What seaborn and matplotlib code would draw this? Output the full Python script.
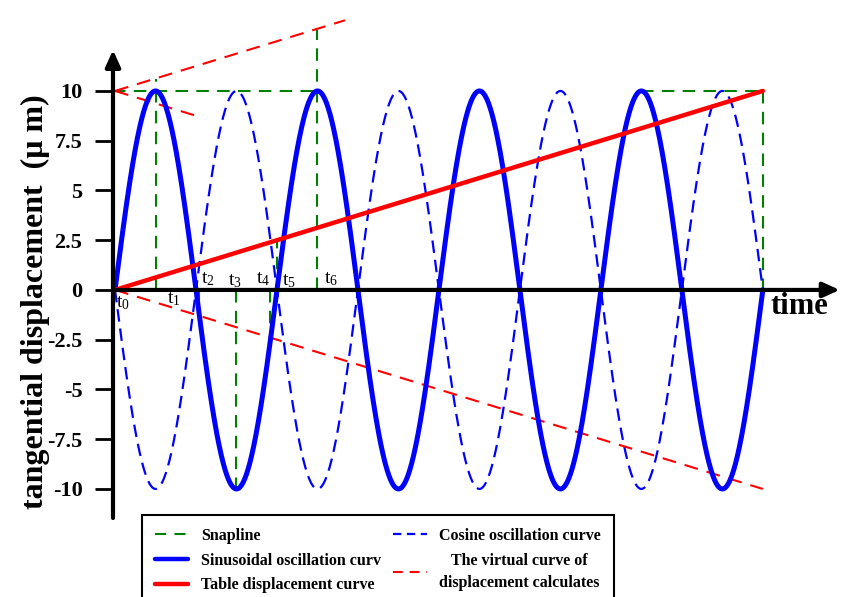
import numpy as np
import pandas as pd
import matplotlib
matplotlib.use("Agg")
import matplotlib.pyplot as plt
import seaborn as sns
from matplotlib.lines import Line2D

# ---------------- data ----------------
amplitude = 10.0          # um, oscillation amplitude
n_periods = 4             # number of full oscillations shown
t_end = 8.0               # end of time span (arbitrary units, 2 per period)
table_end = 10.0          # table displacement at t_end

ytick_values = [10, 7.5, 5, 2.5, 0, -2.5, -5, -7.5, -10]
ytick_labels = ["10", "7.5", "5", "2.5", "0", "-2.5", "-5", "-7.5", "-10"]

# time marks t0..t6
mark_labels = [r"$\mathrm{t}_{0}$", r"$\mathrm{t}_{1}$", r"$\mathrm{t}_{2}$", r"$\mathrm{t}_{3}$",
               r"$\mathrm{t}_{4}$", r"$\mathrm{t}_{5}$", r"$\mathrm{t}_{6}$"]
mark_x = [0.10, 0.72, 1.15, 1.48, 1.83, 2.15, 2.67]
mark_y = [-0.65, -0.45, 0.55, 0.45, 0.55, 0.45, 0.55]

# snap lines (green dashed) segments
snap_x0 = [-0.03, 0.50, 2.50, 1.04, 1.50, 1.92, 2.00, 6.50, 8.00]
snap_y0 = [10.0, 0.0, 0.0, 0.0, 0.0, 0.0, 0.0, 10.0, 10.0]
snap_x1 = [2.50, 0.50, 2.50, 1.04, 1.50, 1.92, 2.00, 8.00, 8.00]
snap_y1 = [10.0, 10.62, 13.12, -1.30, -10.0, -2.40, 2.50, 10.0, 0.0]

# virtual displacement lines (red dashed) segments
virt_x0 = [0.0, 0.0, 0.0]
virt_y0 = [10.0, 10.0, 0.0]
virt_x1 = [2.84, 1.05, 8.0]
virt_y1 = [13.55, 8.69, -10.0]

legend_labels = ["Snapline", "Sinusoidal oscillation curv", "Table displacement curve",
                 "Cosine oscillation curve", "The virtual curve of\ndisplacement calculates"]

# ---------------- build curves ----------------
t = np.linspace(0, t_end, 2001)
phase = 2 * np.pi * n_periods * t / t_end
curves = pd.DataFrame({
    "t": t,
    "sin": amplitude * np.sin(phase),
    "cos": -amplitude * np.sin(phase),
    "table": table_end * t / t_end,
})

# ---------------- style ----------------
sns.set_style("white")
plt.rcParams["font.family"] = ["Liberation Serif", "DejaVu Serif"]
plt.rcParams["mathtext.fontset"] = "custom"
plt.rcParams["mathtext.rm"] = "Liberation Serif"
plt.rcParams["mathtext.it"] = "Liberation Serif:italic"
plt.rcParams["lines.scale_dashes"] = False
plt.rcParams["text.color"] = "black"
plt.rcParams["ytick.color"] = "black"
plt.rcParams["ytick.labelcolor"] = "black"

BLUE = "#0000FF"
RED = "#FF0000"
GREEN = "#008000"

W, H = 843, 597
fig = plt.figure(figsize=(W / 100, H / 100), dpi=100)
ax = fig.add_axes([113 / W, (H - 518) / H, 730 / W, 518 / H])
ax.set_xlim(-0.025, 8.99)
ax.set_ylim(-11.46, 14.57)

green_dash = (0, (9, 6))
red_dash = (0, (10, 6.5))
blue_dash = (0, (9, 5))

# snap lines
for x0, y0, x1, y1 in zip(snap_x0, snap_y0, snap_x1, snap_y1):
    ax.plot([x0, x1], [y0, y1], color=GREEN, lw=1.5, linestyle=green_dash, zorder=2)

# cosine curve (dashed)
sns.lineplot(data=curves, x="t", y="cos", ax=ax, color=BLUE, lw=1.6,
             linestyle=blue_dash, zorder=3, legend=False)
# sinusoidal curve
sns.lineplot(data=curves, x="t", y="sin", ax=ax, color=BLUE, lw=3.6, zorder=4, legend=False)
# table displacement
sns.lineplot(data=curves, x="t", y="table", ax=ax, color=RED, lw=3.2, zorder=5, legend=False)

# virtual lines
for x0, y0, x1, y1 in zip(virt_x0, virt_y0, virt_x1, virt_y1):
    ax.plot([x0, x1], [y0, y1], color=RED, lw=1.5, linestyle=red_dash, zorder=3)

# axes with arrows
for s in ax.spines.values():
    s.set_visible(False)
ax.set_xticks([])
ax.set_yticks(ytick_values)
ax.set_yticklabels(ytick_labels, fontsize=16, fontweight="bold", color="black")
ax.tick_params(axis="y", left=True, length=13, width=2, pad=9, direction="out",
               color="black", labelcolor="black")
ax.set_xlabel("")
ax.set_ylabel("")

x_axis_left = -0.025
ax.annotate("", xy=(x_axis_left, 12.06), xytext=(x_axis_left, -11.46),
            arrowprops=dict(arrowstyle="-|>,head_length=1.0,head_width=0.45", lw=3,
                            color="black", shrinkA=0, shrinkB=0), annotation_clip=False, zorder=6)
ax.annotate("", xy=(8.95, 0), xytext=(x_axis_left, 0),
            arrowprops=dict(arrowstyle="-|>,head_length=1.0,head_width=0.45", lw=3,
                            color="black", shrinkA=0, shrinkB=0), annotation_clip=False, zorder=6)

# time marks
for lab, x, y in zip(mark_labels, mark_x, mark_y):
    ax.text(x, y, lab, fontsize=14, ha="center", va="center", zorder=7)

fig.text(35 / W, 1 - 302 / H, "tangential displacement  (\u03bc m)", rotation=90,
         ha="center", va="center", fontsize=23, fontweight="bold")
fig.text(799 / W, 1 - 307 / H, "time", ha="center", va="center", fontsize=22, fontweight="bold")

# legend
handles = [
    Line2D([], [], color=GREEN, lw=1.5, linestyle=(0, (8, 6))),
    Line2D([], [], color=BLUE, lw=3.2),
    Line2D([], [], color=RED, lw=3.2),
    Line2D([], [], color=BLUE, lw=1.6, linestyle=(0, (6, 4))),
    Line2D([], [], color=RED, lw=1.5, linestyle=(0, (7, 5))),
]
leg = fig.legend(handles, legend_labels, loc="upper left",
                 bbox_to_anchor=(142 / W, 1 - 515 / H), ncol=2,
                 prop={"family": "Liberation Serif", "weight": "bold", "size": 11.5},
                 frameon=True, fancybox=False, edgecolor="black", framealpha=1,
                 borderaxespad=0, handlelength=2.1, handletextpad=0.8,
                 columnspacing=0.75, labelspacing=0.55, borderpad=0.8)
leg.get_frame().set_linewidth(1.5)
for txt in leg.get_texts():
    txt.set_color("black")
leg.get_texts()[-1].set_multialignment("center")
leg.get_texts()[-1].set_linespacing(1.5)

fig.savefig("out.png", dpi=100)
